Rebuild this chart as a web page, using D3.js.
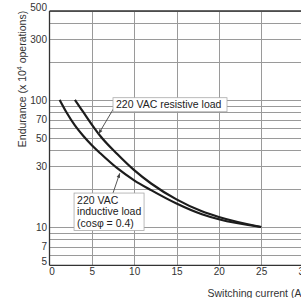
<!DOCTYPE html>
<html>
<head>
<meta charset="utf-8">
<script src="https://cdn.jsdelivr.net/npm/d3@7"></script>
<style>
    html, body { margin: 0; padding: 0; background: #fff; overflow: hidden; }
    svg { display: block; font-family: "Liberation Sans", Arial, sans-serif; }
</style>
</head>
<body>
<div id="chart"></div>
<script>
// switching current, A / endurance, x10^4 operations
var inductiveCurrent = [1.2, 2, 3, 4, 5, 6, 8, 10, 12, 15, 18, 20, 25];
var inductiveLife    = [100, 80, 63, 52, 44, 38, 29, 23.3, 19.5, 15.3, 12.6, 11.5, 10];
var resistiveCurrent = [3, 4, 5, 6, 8, 10, 12, 15, 18, 20, 25];
var resistiveLife    = [100, 80, 64, 52, 37.5, 28, 22, 16.5, 13.3, 12, 10];

var xTicks = [0, 5, 10, 15, 20, 25, 30];
var yTicks = [5, 7, 10, 30, 50, 70, 100, 300, 500];
var yGrid  = [5, 6, 7, 8, 9, 10, 20, 30, 40, 50, 60, 70, 80, 90, 100, 200, 300, 400, 500];

var resistiveText = ["220 VAC resistive load"];
var inductiveText = ["220 VAC", "inductive load", "(cos\u03c6 = 0.4)"];

(function () {
    var width = 301,
        height = 298;

    var svg = d3.select("#chart").append("svg")
        .attr("width", width)
        .attr("height", height);

    // the 30 A edge sits just outside the picture
    var x = d3.scaleLinear().domain([0, 30]).range([49.5, 303.5]);
    var y = d3.scaleLog().domain([5, 500]).range([265.3, 11]);

    var grid = svg.append("g")
        .attr("stroke", "#9a9a9a")
        .attr("stroke-width", 1);

    grid.selectAll("line.h")
        .data(yGrid)
        .enter().append("line")
        .attr("class", "h")
        .attr("x1", x(0)).attr("x2", width)
        .attr("y1", function (d) { return Math.round(y(d)) + 0.5; })
        .attr("y2", function (d) { return Math.round(y(d)) + 0.5; });

    grid.selectAll("line.v")
        .data(xTicks.slice(1))
        .enter().append("line")
        .attr("class", "v")
        .attr("y1", y(500)).attr("y2", y(5))
        .attr("x1", function (d) { return Math.round(x(d)) + 0.5; })
        .attr("x2", function (d) { return Math.round(x(d)) + 0.5; });

    // frame: left, bottom, top
    var frame = svg.append("g")
        .attr("stroke", "#333")
        .attr("stroke-width", 1.3);
    frame.append("line").attr("x1", x(0)).attr("x2", x(0)).attr("y1", y(500)).attr("y2", y(5));
    frame.append("line").attr("x1", x(0)).attr("x2", width).attr("y1", y(5)).attr("y2", y(5));
    frame.append("line").attr("x1", x(0)).attr("x2", width).attr("y1", y(500)).attr("y2", y(500));

    // tick labels through axes, axis paths removed
    var yAxis = svg.append("g")
        .attr("transform", "translate(" + x(0) + ",0)")
        .call(d3.axisLeft(y).tickValues(yTicks).tickFormat(d3.format("d")).tickSize(0).tickPadding(2.5));
    var xAxis = svg.append("g")
        .attr("transform", "translate(0," + y(5) + ")")
        .call(d3.axisBottom(x).tickValues(xTicks).tickSize(0).tickPadding(3));

    [yAxis, xAxis].forEach(function (a) {
        a.select(".domain").remove();
        a.selectAll("text")
            .attr("fill", "#333")
            .style("font-size", "10px")
            .style("font-family", "Liberation Sans, Arial, sans-serif");
    });
    // end labels are pushed inside the frame
    yAxis.selectAll(".tick text").filter(function (d) { return d === 500 || d === 5; })
        .attr("y", -4);
    xAxis.selectAll(".tick text").filter(function (d) { return d === 0; })
        .attr("x", 2);

    // curves
    var line = d3.line()
        .x(function (d) { return x(d[0]); })
        .y(function (d) { return y(d[1]); })
        .curve(d3.curveMonotoneX);

    var series = [
        d3.zip(inductiveCurrent, inductiveLife),
        d3.zip(resistiveCurrent, resistiveLife)
    ];

    svg.selectAll("path.curve")
        .data(series)
        .enter().append("path")
        .attr("class", "curve")
        .attr("d", line)
        .attr("fill", "none")
        .attr("stroke", "#1c1c1c")
        .attr("stroke-width", 2.2);

    // annotations
    svg.append("defs").append("marker")
        .attr("id", "tip")
        .attr("viewBox", "0 0 10 10")
        .attr("refX", 10).attr("refY", 5)
        .attr("markerWidth", 6).attr("markerHeight", 5)
        .attr("orient", "auto")
        .append("path")
        .attr("d", "M0,1L10,5L0,9z")
        .attr("fill", "#444");

    function arrow(from, to) {
        svg.append("line")
            .attr("x1", x(from[0])).attr("y1", y(from[1]))
            .attr("x2", x(to[0])).attr("y2", y(to[1]))
            .attr("stroke", "#444")
            .attr("stroke-width", 0.9)
            .attr("marker-end", "url(#tip)");
    }

    function labelBox(lines, left, top, w, h) {
        var g = svg.append("g");
        g.append("rect")
            .attr("x", x(left)).attr("y", y(top))
            .attr("width", w).attr("height", h)
            .attr("fill", "#fff")
            .attr("stroke", "#aaa")
            .attr("stroke-width", 0.8);
        g.selectAll("text")
            .data(lines)
            .enter().append("text")
            .attr("x", x(left) + 3)
            .attr("y", function (d, i) { return y(top) + 10.5 + i * 11.7; })
            .attr("fill", "#222")
            .style("font-size", "10.5px")
            .text(function (d) { return d; });
    }

    arrow([7.55, 85], [5.8, 54]);
    labelBox(resistiveText, 7.5, 104, 114, 14);

    arrow([7.5, 18.5], [8.3, 26.5]);
    labelBox(inductiveText, 2.9, 18.5, 70, 37.5);

    // axis titles
    svg.append("text")
        .attr("transform", "translate(26,79) rotate(-90)")
        .attr("text-anchor", "middle")
        .attr("fill", "#333")
        .style("font-size", "10.5px")
        .html("Endurance (x 10<tspan dy='-4' font-size='7px'>4</tspan><tspan dy='4'> operations)</tspan>");

    svg.append("text")
        .attr("x", 207.5).attr("y", 297)
        .attr("fill", "#333")
        .style("font-size", "10.5px")
        .text("Switching current (A)");
}());
</script>
</body>
</html>
